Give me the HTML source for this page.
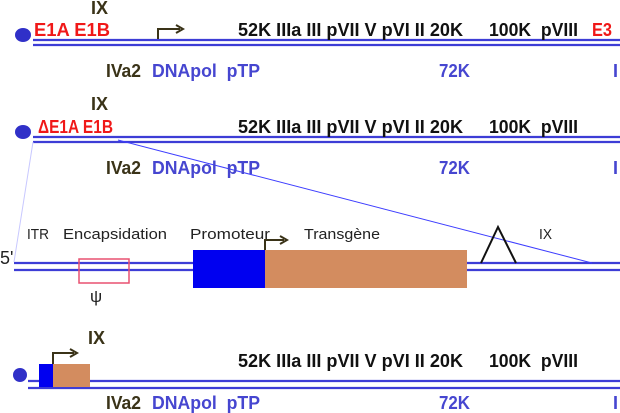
<!DOCTYPE html><html><head><style>body{margin:0;background:#fff}svg{display:block}
.b{font-family:"Liberation Sans",sans-serif;font-weight:bold;font-size:18px}
.r{font-family:"Liberation Sans",sans-serif;font-size:15px;fill:#222}
.k{fill:#111}.dk{fill:#3a3318}.bl{fill:#4646d0}.rd{fill:#f01818}</style></head><body>
<svg width="620" height="413" viewBox="0 0 620 413">
<g stroke="#3d3dd6" stroke-width="2.2" fill="none">
<line x1="33" y1="40" x2="620" y2="40"/><line x1="33" y1="45" x2="620" y2="45"/>
<line x1="33" y1="137" x2="620" y2="137"/><line x1="33" y1="142" x2="620" y2="142"/>
<line x1="14" y1="263" x2="620" y2="263"/><line x1="14" y1="270" x2="620" y2="270"/>
<line x1="28" y1="381" x2="620" y2="381"/><line x1="28" y1="388" x2="620" y2="388"/>
</g>
<line x1="118" y1="140" x2="592" y2="263" stroke="#3d3dff" stroke-width="1"/>
<line x1="33" y1="142" x2="14" y2="262" stroke="#c8c8ff" stroke-width="1"/>
<ellipse cx="23" cy="35" rx="8" ry="7" fill="#3030c8"/>
<ellipse cx="23" cy="132" rx="8" ry="7" fill="#3030c8"/>
<ellipse cx="20" cy="375" rx="7" ry="7" fill="#3030c8"/>
<g stroke="#3a3318" stroke-width="2" fill="none">
<path d="M158 39V29H180"/><path d="M176 25L183 29L176 33"/>
<path d="M265 250V240H284"/><path d="M280 236L287 240L280 244"/>
<path d="M53 364V353H74"/><path d="M70 349L77 353L70 357"/>
</g>
<text class="b dk" x="91" y="14" textLength="17">IX</text>
<text class="b rd" x="34" y="36" textLength="76" lengthAdjust="spacingAndGlyphs">E1A E1B</text>
<text class="b k" x="238" y="36" textLength="225" lengthAdjust="spacingAndGlyphs">52K IIIa III pVII V pVI II 20K</text>
<text class="b k" x="489" y="36" textLength="89" lengthAdjust="spacingAndGlyphs">100K&#160; pVIII</text>
<text class="b rd" x="592" y="36" textLength="20" lengthAdjust="spacingAndGlyphs">E3</text>
<text class="b dk" x="106" y="77" textLength="35" lengthAdjust="spacingAndGlyphs">IVa2</text>
<text class="b bl" x="152" y="77" textLength="108" lengthAdjust="spacingAndGlyphs">DNApol&#160; pTP</text>
<text class="b bl" x="439" y="77" textLength="31" lengthAdjust="spacingAndGlyphs">72K</text>
<text class="b bl" x="613" y="77">I</text>
<text class="b dk" x="91" y="110" textLength="17">IX</text>
<text class="b rd" x="38" y="133" textLength="75" lengthAdjust="spacingAndGlyphs">ΔE1A E1B</text>
<text class="b k" x="238" y="133" textLength="225" lengthAdjust="spacingAndGlyphs">52K IIIa III pVII V pVI II 20K</text>
<text class="b k" x="489" y="133" textLength="89" lengthAdjust="spacingAndGlyphs">100K&#160; pVIII</text>
<text class="b dk" x="106" y="174" textLength="35" lengthAdjust="spacingAndGlyphs">IVa2</text>
<text class="b bl" x="152" y="174" textLength="108" lengthAdjust="spacingAndGlyphs">DNApol&#160; pTP</text>
<text class="b bl" x="439" y="174" textLength="31" lengthAdjust="spacingAndGlyphs">72K</text>
<text class="b bl" x="613" y="174">I</text>
<text class="r" x="0" y="264" style="font-size:18px">5'</text>
<text class="r" x="27" y="239" textLength="22" lengthAdjust="spacingAndGlyphs">ITR</text>
<text class="r" x="63" y="239" textLength="104" lengthAdjust="spacingAndGlyphs">Encapsidation</text>
<text class="r" x="190" y="239" textLength="80" lengthAdjust="spacingAndGlyphs">Promoteur</text>
<text class="r" x="304" y="239" textLength="76" lengthAdjust="spacingAndGlyphs">Transgène</text>
<text class="r" x="539" y="239" textLength="13" lengthAdjust="spacingAndGlyphs">IX</text>
<text class="r" x="90" y="302" style="font-size:17px">ψ</text>
<rect x="79" y="259" width="50" height="24" fill="none" stroke="#e85070" stroke-width="1.5"/>
<rect x="193" y="250" width="72" height="38" fill="#0000f0"/>
<rect x="265" y="250" width="202" height="38" fill="#d38c5f"/>
<path d="M481 263L498 227L516 263" fill="none" stroke="#111" stroke-width="2"/>
<rect x="39" y="364" width="14" height="23" fill="#0000f0"/>
<rect x="53" y="364" width="37" height="23" fill="#d38c5f"/>
<text class="b dk" x="88" y="344" textLength="17">IX</text>
<text class="b k" x="238" y="367" textLength="225" lengthAdjust="spacingAndGlyphs">52K IIIa III pVII V pVI II 20K</text>
<text class="b k" x="489" y="367" textLength="89" lengthAdjust="spacingAndGlyphs">100K&#160; pVIII</text>
<text class="b dk" x="106" y="409" textLength="35" lengthAdjust="spacingAndGlyphs">IVa2</text>
<text class="b bl" x="152" y="409" textLength="108" lengthAdjust="spacingAndGlyphs">DNApol&#160; pTP</text>
<text class="b bl" x="439" y="409" textLength="31" lengthAdjust="spacingAndGlyphs">72K</text>
<text class="b bl" x="613" y="409">I</text>
</svg></body></html>
